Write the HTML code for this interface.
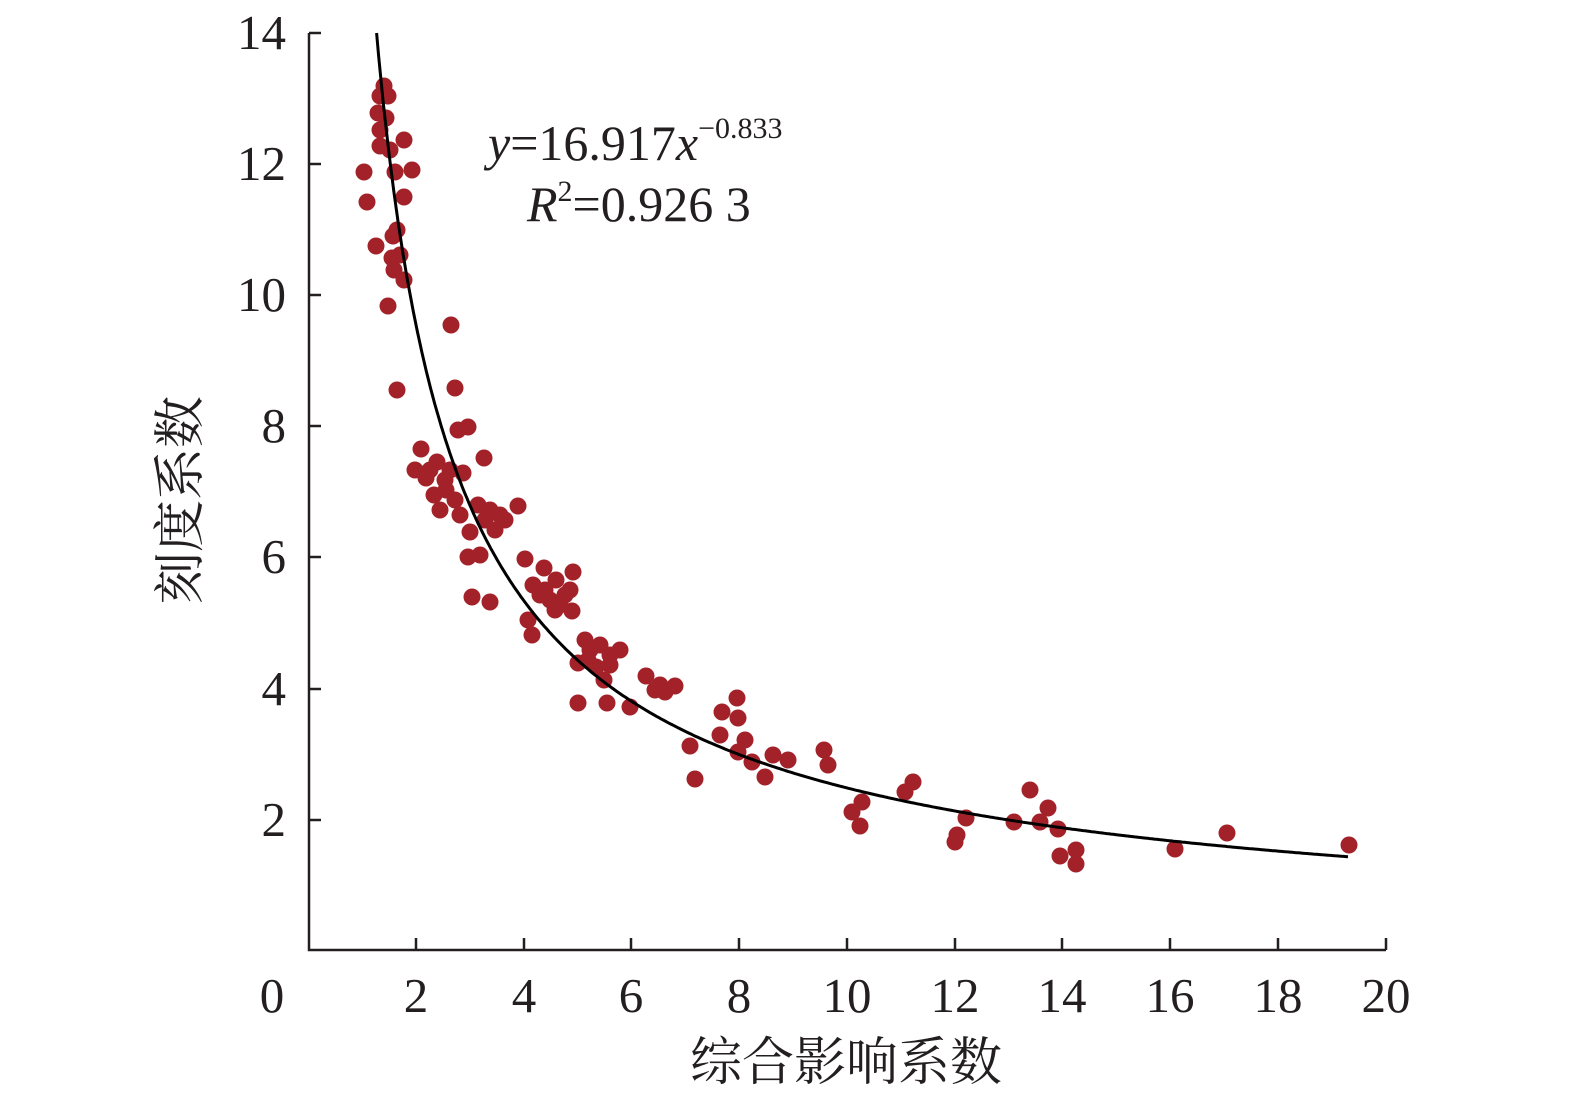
<!DOCTYPE html>
<html><head><meta charset="utf-8"><style>
html,body{margin:0;padding:0;background:#fff;}
svg{display:block;}
text{font-family:"Liberation Serif","Noto Serif CJK SC",serif;fill:#231f20;}
</style></head><body>
<svg id="s" width="1575" height="1104" viewBox="0 0 1575 1104" xmlns="http://www.w3.org/2000/svg">
<g stroke="#231f20" stroke-width="2.5" fill="none">
<path d="M309,33 V950 H1386"/>
<path d="M309,33 H321 M309,164 H321 M309,295 H321 M309,426 H321 M309,557 H321 M309,689 H321 M309,820 H321"/>
<path d="M416,950 V938 M524,950 V938 M631,950 V938 M739,950 V938 M847,950 V938 M955,950 V938 M1062,950 V938 M1170,950 V938 M1278,950 V938 M1386,950 V938"/>
</g>
<g font-size="49" text-anchor="end">
<text x="286" y="49">14</text><text x="286" y="180">12</text><text x="286" y="311">10</text>
<text x="286" y="442">8</text><text x="286" y="573">6</text><text x="286" y="705">4</text><text x="286" y="836">2</text>
</g>
<g font-size="49" text-anchor="middle">
<text x="272" y="1012">0</text><text x="416" y="1012">2</text><text x="524" y="1012">4</text><text x="631" y="1012">6</text>
<text x="739" y="1012">8</text><text x="847" y="1012">10</text><text x="955" y="1012">12</text><text x="1062" y="1012">14</text>
<text x="1170" y="1012">16</text><text x="1278" y="1012">18</text><text x="1386" y="1012">20</text>
</g>
<text x="846" y="1080" font-size="52" text-anchor="middle">综合影响系数</text>
<text transform="translate(198,500) rotate(-90)" font-size="52" text-anchor="middle">刻度系数</text>
<text x="488" y="160" font-size="50"><tspan font-style="italic">y</tspan>=16.917<tspan font-style="italic">x</tspan><tspan font-size="30" dy="-22">−0.833</tspan></text>
<text x="527" y="221" font-size="50"><tspan font-style="italic">R</tspan><tspan font-size="30" dy="-20">2</tspan><tspan dy="20">=0.926 3</tspan></text>
<g id="pts" fill="#a3222a"></g>
<path id="curve" fill="none" stroke="#000" stroke-width="3"/>
</svg>
<script>
var P=[[364,172],[367,202],[376,246],[378,113],[380,96],[380,146],[384,86],[388,96],[386,118],[390,150],[395,172],[397,230],[392,258],[394,270],[404,140],[412,170],[404,197],[404,280],[388,306],[397,390],[451,325],[455,388],[458,430],[468,427],[484,458],[421,449],[415,470],[430,470],[437,462],[426,478],[434,495],[440,510],[446,490],[450,470],[463,473],[455,500],[470,532],[478,505],[485,520],[490,510],[505,520],[518,506],[495,530],[468,557],[480,555],[472,597],[490,602],[525,559],[544,568],[533,585],[540,595],[550,600],[560,605],[570,590],[573,572],[528,620],[532,635],[555,610],[572,611],[578,663],[590,650],[600,645],[610,665],[620,650],[578,703],[607,703],[630,707],[646,676],[655,690],[665,692],[675,686],[690,746],[695,779],[722,712],[737,698],[738,718],[738,752],[752,762],[765,777],[773,755],[788,760],[824,750],[828,765],[852,812],[860,826],[862,802],[905,792],[913,782],[955,842],[957,835],[966,818],[1014,822],[1030,790],[1040,822],[1048,808],[1058,829],[1060,856],[1076,850],[1076,864],[1175,849],[1227,833],[1349,845],[596,667],[604,680],[588,660],[545,590],[556,580],[400,255],[393,236],[380,130],[445,480],[460,515],[500,515],[565,595],[585,640],[610,655],[660,685],[720,735],[745,740]];
var g=document.getElementById('pts'),h='';
P.forEach(function(p){h+='<circle cx="'+p[0]+'" cy="'+p[1]+'" r="8.5"/>';});
g.innerHTML=h;
var d='';
var x0=Math.pow(16.917/14,1/0.833);
for(var x=x0;x<=19.32;x+=0.04){var y=16.917*Math.pow(x,-0.833);var px=309+x*53.85,py=951-y*65.57;d+=(d?'L':'M')+px.toFixed(1)+','+py.toFixed(1);}
document.getElementById('curve').setAttribute('d',d);
</script>
</body></html>
